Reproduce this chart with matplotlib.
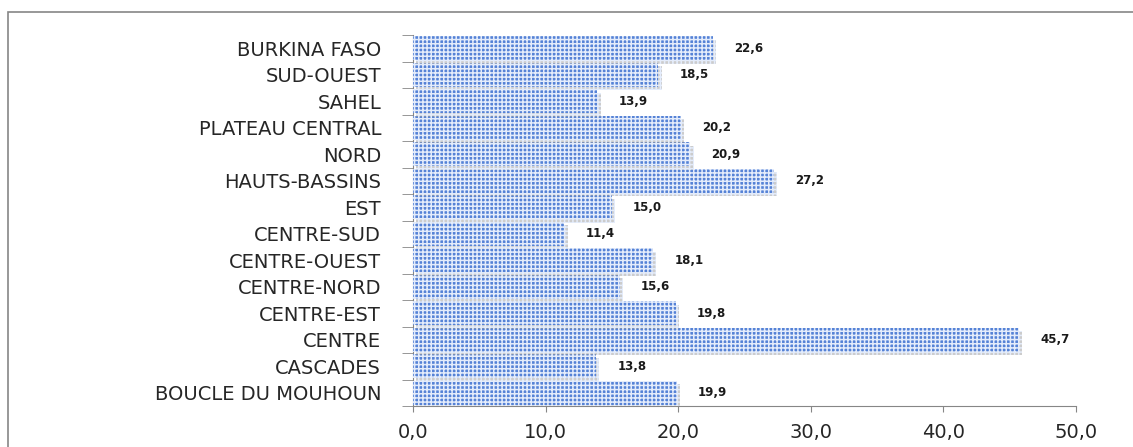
import matplotlib.pyplot as plt
from matplotlib.patches import Rectangle
import matplotlib.patheffects as pe

regions = ["BOUCLE DU MOUHOUN", "CASCADES", "CENTRE", "CENTRE-EST", "CENTRE-NORD",
           "CENTRE-OUEST", "CENTRE-SUD", "EST", "HAUTS-BASSINS", "NORD",
           "PLATEAU CENTRAL", "SAHEL", "SUD-OUEST", "BURKINA FASO"]
values = [19.9, 13.8, 45.7, 19.8, 15.6, 18.1, 11.4, 15.0, 27.2, 20.9, 20.2, 13.9, 18.5, 22.6]
xticks = [0, 10, 20, 30, 40, 50]

plt.rcParams['font.family'] = ['DejaVu Sans']
plt.rcParams['hatch.linewidth'] = 1.1

fig = plt.figure(figsize=(11.33, 4.47), dpi=100)
fig.patches.append(Rectangle((8 / 1133, -0.1), 1.2, 1 - 12 / 447 + 0.1, transform=fig.transFigure,
                             fill=False, edgecolor='#868686', linewidth=1.2))
ax = fig.add_axes([413 / 1133, 1 - 406 / 447, 663 / 1133, 371 / 447])

y = list(range(len(regions)))
bars = ax.barh(y, values, height=0.9, color='#5582d6', edgecolor='#e4ecfb', linewidth=0,
               hatch='++++', zorder=3)
for b in bars:
    b.set_path_effects([pe.SimplePatchShadow(offset=(2.5, -2.5), shadow_rgbFace='#9a9a9a', alpha=0.5),
                        pe.Normal()])

for yi, v in zip(y, values):
    ax.text(v + 1.6, yi, f"{v:.1f}".replace('.', ','), va='center', ha='left',
            fontsize=8.5, fontweight='bold', color='#1a1a1a')

ax.set_xlim(0, 50)
ax.set_ylim(-0.5, len(regions) - 0.5)
ax.set_xticks(xticks)
ax.set_xticklabels([f"{t:.1f}".replace('.', ',') for t in xticks], fontsize=14, color='#262626')
ax.set_yticks(y)
ax.set_yticklabels(regions, fontsize=14, color='#262626')
ax.set_yticks([i - 0.5 for i in range(len(regions) + 1)], minor=True)
ax.tick_params(axis='y', which='major', length=0, pad=23)
ax.tick_params(axis='y', which='minor', length=8, color='#868686')
ax.tick_params(axis='x', length=4, color='#868686', pad=8)

for s in ['top', 'right']:
    ax.spines[s].set_visible(False)
for s in ['left', 'bottom']:
    ax.spines[s].set_color('#868686')

plt.savefig('out.png', dpi=100)
